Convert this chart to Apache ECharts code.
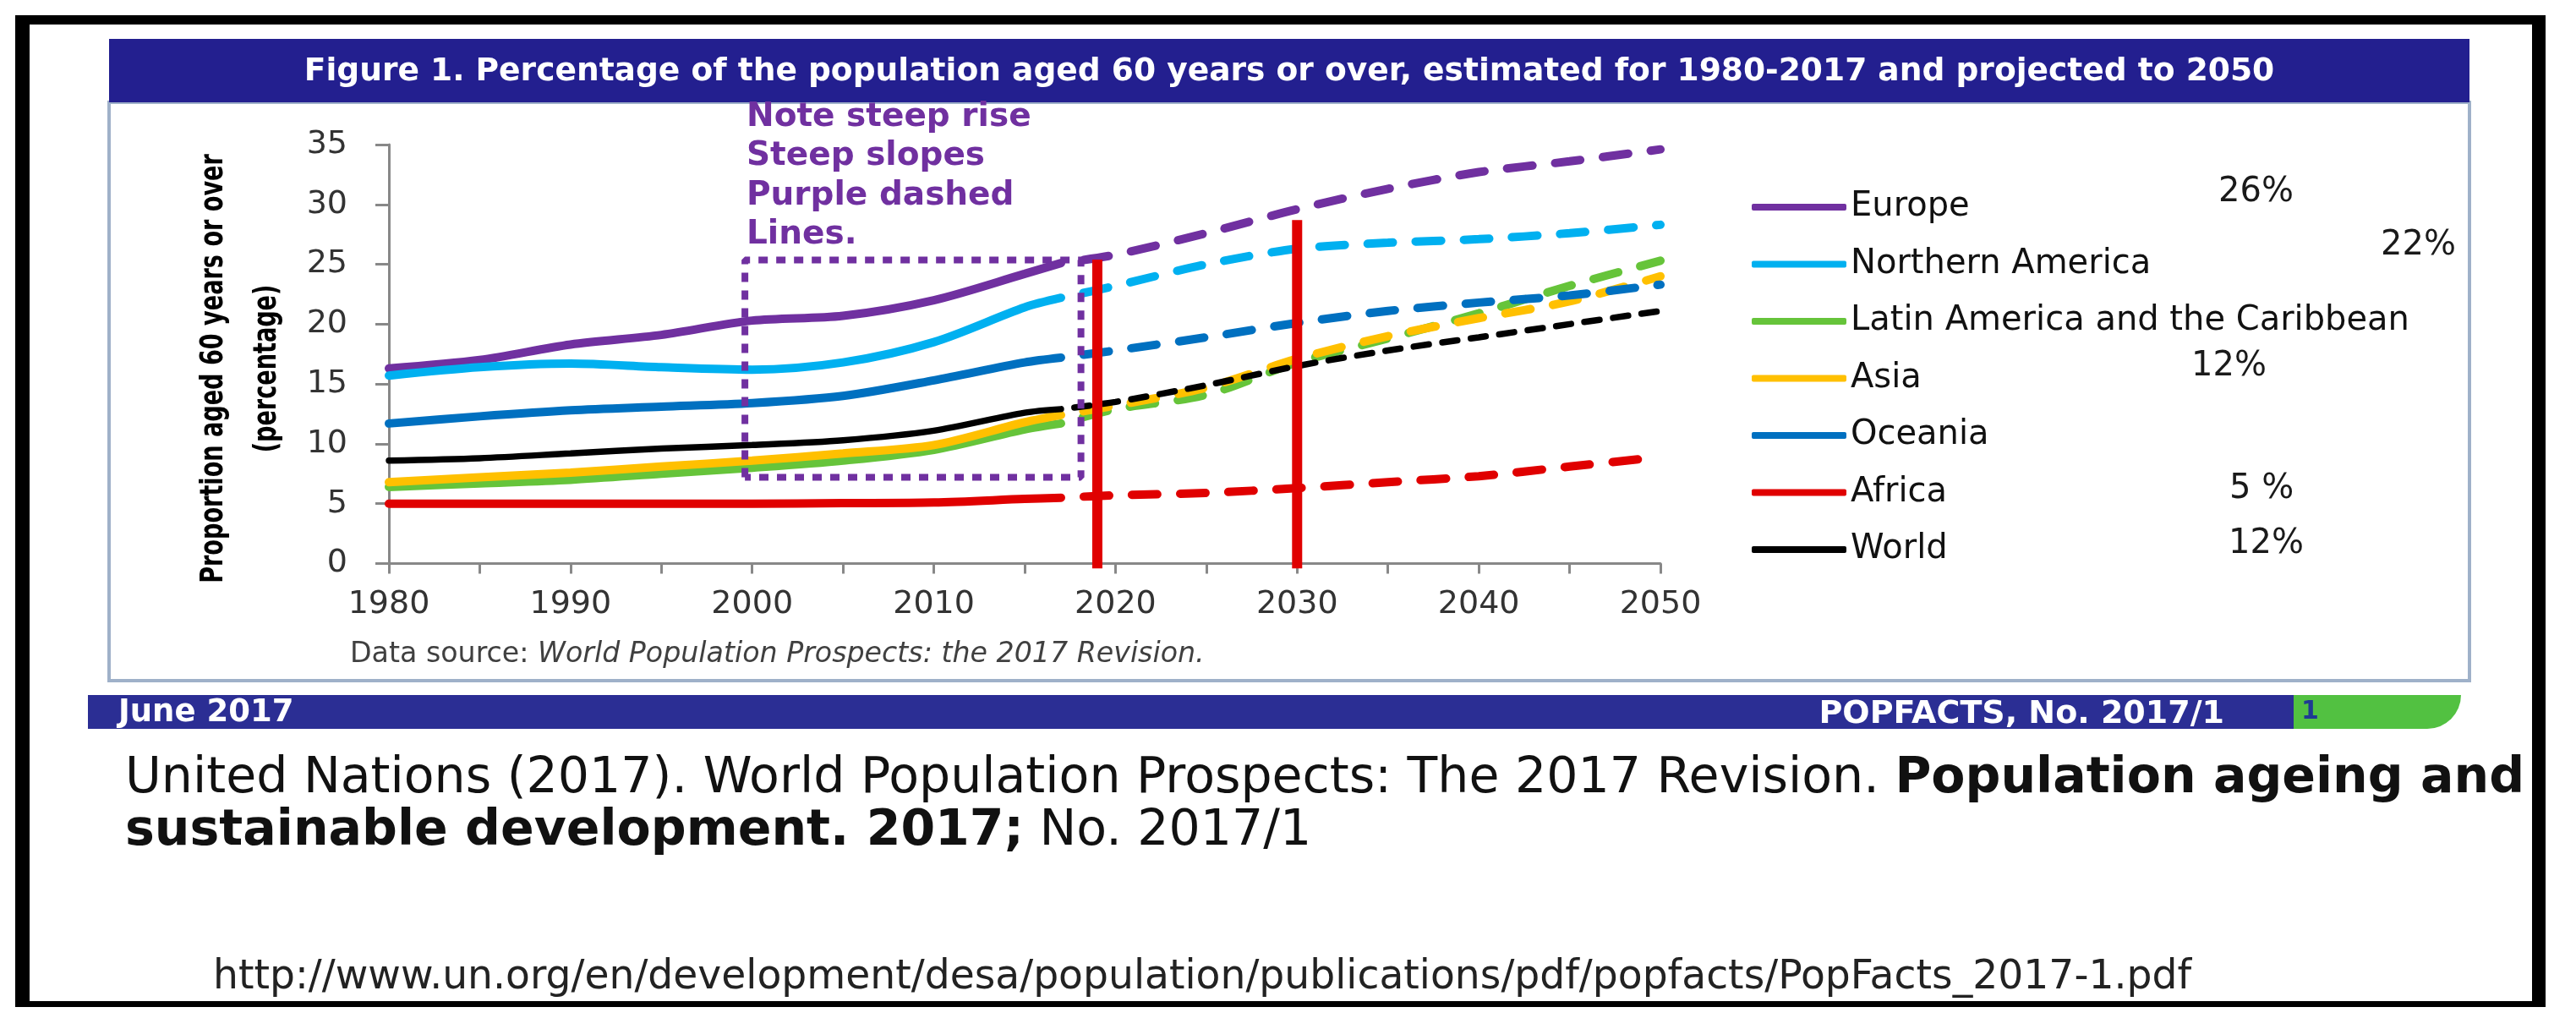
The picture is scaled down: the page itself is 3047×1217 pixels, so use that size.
<!DOCTYPE html>
<html>
<head>
<meta charset="utf-8">
<title>Population aged 60 years or over, 1980-2050</title>
<style>
  html, body { margin: 0; padding: 0; background: #fff; }
  #main { width: 3047px; height: 1217px; }
</style>
<script src="https://cdn.jsdelivr.net/npm/echarts@6.0.0/dist/echarts.min.js"></script>
</head>
<body>
<div id="main"></div>
<script>
// values (percentage aged 60+)
var regions = ['Europe', 'Northern America', 'Latin America and the Caribbean', 'Asia', 'Oceania', 'Africa', 'World'];
var estimateYears = [1980, 1985, 1990, 1995, 2000, 2005, 2010, 2015, 2017];
var projectionYears = [2017, 2020, 2025, 2030, 2035, 2040, 2045, 2050];

var europeEst = [16.3, 17.0, 18.3, 19.1, 20.3, 20.7, 22.0, 24.2, 25.1];
var europeProj = [25.1, 25.8, 27.6, 29.6, 31.3, 32.7, 33.6, 34.6];
var northAmericaEst = [15.7, 16.4, 16.7, 16.4, 16.2, 16.8, 18.5, 21.4, 22.2];
var northAmericaProj = [22.2, 23.2, 25.0, 26.3, 26.8, 27.1, 27.6, 28.3];
var latinAmericaEst = [6.4, 6.7, 7.0, 7.5, 8.0, 8.6, 9.5, 11.2, 11.7];
var latinAmericaProj = [11.7, 12.9, 14.1, 16.8, 18.8, 20.9, 23.2, 25.3];
var asiaEst = [6.8, 7.2, 7.6, 8.1, 8.6, 9.2, 9.9, 11.8, 12.4];
var asiaProj = [12.4, 13.2, 14.7, 17.1, 19.0, 20.5, 21.9, 24.0];
var oceaniaEst = [11.7, 12.3, 12.8, 13.1, 13.4, 14.0, 15.3, 16.8, 17.2];
var oceaniaProj = [17.2, 17.8, 18.9, 20.1, 21.1, 21.8, 22.4, 23.3];
var africaEst = [5.0, 5.0, 5.0, 5.0, 5.0, 5.05, 5.1, 5.4, 5.5];
var africaProj = [5.5, 5.7, 5.9, 6.3, 6.8, 7.3, 8.1, 8.9];
var worldEst = [8.6, 8.8, 9.2, 9.6, 9.9, 10.3, 11.1, 12.6, 12.9];
var worldProj = [12.9, 13.5, 14.9, 16.5, 17.8, 18.9, 20.0, 21.1];

// hand-drawn notes on the slide
var shareLabels = ['26%', '22%', '12%', '5 %', '12%'];
var noteLines = ['Note steep rise', 'Steep slopes', 'Purple dashed', 'Lines.'];
var markerYears = [2019, 2030];
var markerTops = [25.4, 28.7];
var boxYears = [1999.6, 2018.1];
var boxValues = [7.2, 25.35];

var estimates = [europeEst, northAmericaEst, latinAmericaEst, asiaEst, oceaniaEst, africaEst, worldEst];
var projections = [europeProj, northAmericaProj, latinAmericaProj, asiaProj, oceaniaProj, africaProj, worldProj];
var colors = ['#7030A0', '#00B0F0', '#66C43A', '#FFC000', '#0070C0', '#E00000', '#000000'];

var FONT = '"DejaVu Sans", Verdana, sans-serif';

// size long texts so that they span the same width as in the picture
var measureCtx = document.createElement('canvas').getContext('2d');
function textWidth(str, weight, style) {
  measureCtx.font = (style || 'normal') + ' ' + (weight || 'normal') + ' 100px ' + FONT;
  return measureCtx.measureText(str).width;
}
function fitSize(parts, target) {
  var w = 0;
  parts.forEach(function (p) { w += textWidth(p[0], p[1], p[2]); });
  return 100 * target / w;
}

function pairs(xs, ys) {
  return xs.map(function (x, i) { return [x, ys[i]]; });
}

var series = [];
regions.forEach(function (name, i) {
  var thin = name === 'World';
  var w = thin ? 7.5 : 10;
  var dash = thin ? [18, 16] : [30, 27];
  series.push({
    type: 'line', name: name, data: pairs(estimateYears, estimates[i]),
    smooth: 0.3, symbol: 'none', silent: true,
    itemStyle: { color: colors[i] },
    lineStyle: { color: colors[i], width: w, cap: 'round' }
  });
  series.push({
    type: 'line', name: name, data: pairs(projectionYears, projections[i]),
    smooth: 0.3, symbol: 'none', silent: true,
    itemStyle: { color: colors[i] },
    lineStyle: { color: colors[i], width: w, type: dash, dashOffset: dash[0], cap: 'round' }
  });
});

// dotted purple box
series.push({
  type: 'line', name: 'box', silent: true, symbol: 'none', z: 5,
  data: [[boxYears[0], boxValues[0]], [boxYears[0], boxValues[1]], [boxYears[1], boxValues[1]],
         [boxYears[1], boxValues[0]], [boxYears[0], boxValues[0]]],
  lineStyle: { color: '#7030A0', width: 8, type: [11, 10], cap: 'butt' }
});
// red vertical markers
markerYears.forEach(function (yr, i) {
  series.push({
    type: 'line', name: 'marker' + i, silent: true, symbol: 'none', z: 6, clip: false,
    data: [[yr, markerTops[i]], [yr, -0.4]],
    lineStyle: { color: '#E00000', width: 12 }
  });
});

var titleText = 'Figure 1. Percentage of the population aged 60 years or over, estimated for 1980-2017 and projected to 2050';
var titleSize = fitSize([[titleText, 'bold']], 2331);
var cite1a = 'United Nations (2017). World Population Prospects: The 2017 Revision. ';
var cite1b = 'Population ageing and';
var cite2a = 'sustainable development. 2017;';
var cite2b = ' No. 2017/1';
var citeSize = fitSize([[cite1a], [cite1b, 'bold']], 2839);
var urlText = 'http://www.un.org/en/development/desa/population/publications/pdf/popfacts/PopFacts_2017-1.pdf';
var urlSize = fitSize([[urlText]], 2341);
var srcA = 'Data source: ';
var srcB = 'World Population Prospects: the 2017 Revision.';
var srcSize = fitSize([[srcA], [srcB, 'normal', 'italic']], 1011);
var axisTitle1 = 'Proportion aged 60 years or over';
var axisTitle2 = '(percentage)';
var axisTitleSize = fitSize([[axisTitle1, 'bold']], 508);

var sharePos = [[2624, 228], [2816, 291], [2592, 434], [2637, 579], [2636, 644]];

var graphics = [
  // outer black frame
  { type: 'rect', shape: { x: 18, y: 18, width: 2993, height: 11 }, style: { fill: '#000' } },
  { type: 'rect', shape: { x: 18, y: 18, width: 17, height: 1173 }, style: { fill: '#000' } },
  { type: 'rect', shape: { x: 2995, y: 18, width: 16, height: 1173 }, style: { fill: '#000' } },
  { type: 'rect', shape: { x: 18, y: 1184, width: 2993, height: 7 }, style: { fill: '#000' } },
  // figure box and title bar
  { type: 'rect', shape: { x: 129, y: 121, width: 2792, height: 684 }, style: { fill: 'none', stroke: '#9FB1C9', lineWidth: 4 } },
  { type: 'rect', shape: { x: 129, y: 46, width: 2792, height: 75 }, style: { fill: '#231F8F' } },
  { type: 'text', x: 1525, y: 85, style: {
      text: titleText, fill: '#fff', fontFamily: FONT, fontWeight: 'bold', fontSize: titleSize,
      align: 'center', verticalAlign: 'middle', textAlign: 'center', textVerticalAlign: 'middle' } },
  // axis title, glyphs widened across the text like the stretched original
  { type: 'text', x: 285, y: 436, rotation: Math.PI / 2, scaleY: 1.4, style: {
      text: axisTitle1 + '\n' + axisTitle2, fill: '#000', fontFamily: FONT,
      fontWeight: 'bold', fontSize: axisTitleSize, lineHeight: 45,
      align: 'center', verticalAlign: 'middle', textAlign: 'center', textVerticalAlign: 'middle' } },
  // data source
  { type: 'text', x: 414, y: 774, style: {
      text: '{a|' + srcA + '}{b|' + srcB + '}', fontFamily: FONT, fontSize: srcSize,
      align: 'left', verticalAlign: 'middle', textAlign: 'left', textVerticalAlign: 'middle',
      rich: {
        a: { fill: '#404040', fontFamily: FONT, fontSize: srcSize },
        b: { fill: '#404040', fontFamily: FONT, fontSize: srcSize, fontStyle: 'italic' }
      } } },
  // footer bar
  { type: 'rect', shape: { x: 104, y: 822, width: 2609, height: 40 }, style: { fill: '#2B2E94' } },
  { type: 'rect', shape: { x: 2713, y: 822, width: 198, height: 40, r: [0, 0, 40, 0] }, style: { fill: '#52C141' } },
  { type: 'text', x: 140, y: 843, style: {
      text: 'June 2017', fill: '#fff', fontFamily: FONT, fontWeight: 'bold', fontSize: 37,
      align: 'left', verticalAlign: 'middle', textAlign: 'left', textVerticalAlign: 'middle' } },
  { type: 'text', x: 2631, y: 845, style: {
      text: 'POPFACTS, No. 2017/1', fill: '#fff', fontFamily: FONT, fontWeight: 'bold', fontSize: 38,
      align: 'right', verticalAlign: 'middle', textAlign: 'right', textVerticalAlign: 'middle' } },
  { type: 'text', x: 2722, y: 842, style: {
      text: '1', fill: '#1F3A93', fontFamily: FONT, fontWeight: 'bold', fontSize: 30,
      align: 'left', verticalAlign: 'middle', textAlign: 'left', textVerticalAlign: 'middle' } },
  // citation
  { type: 'text', x: 148, y: 922, style: {
      text: '{a|' + cite1a + '}{b|' + cite1b + '}', fontFamily: FONT, fontSize: citeSize,
      align: 'left', verticalAlign: 'middle', textAlign: 'left', textVerticalAlign: 'middle',
      rich: {
        a: { fill: '#111', fontFamily: FONT, fontSize: citeSize },
        b: { fill: '#111', fontFamily: FONT, fontSize: citeSize, fontWeight: 'bold' }
      } } },
  { type: 'text', x: 148, y: 984, style: {
      text: '{b|' + cite2a + '}{a|' + cite2b + '}', fontFamily: FONT, fontSize: citeSize,
      align: 'left', verticalAlign: 'middle', textAlign: 'left', textVerticalAlign: 'middle',
      rich: {
        a: { fill: '#111', fontFamily: FONT, fontSize: citeSize },
        b: { fill: '#111', fontFamily: FONT, fontSize: citeSize, fontWeight: 'bold' }
      } } },
  { type: 'text', x: 252, y: 1157, style: {
      text: urlText, fill: '#222', fontFamily: FONT, fontSize: urlSize,
      align: 'left', verticalAlign: 'middle', textAlign: 'left', textVerticalAlign: 'middle' } }
];

noteLines.forEach(function (line, i) {
  graphics.push({ type: 'text', x: 883, y: 139 + i * 46.3, style: {
    text: line, fill: '#7030A0', fontFamily: FONT, fontWeight: 'bold', fontSize: 39,
    align: 'left', verticalAlign: 'middle', textAlign: 'left', textVerticalAlign: 'middle' } });
});
shareLabels.forEach(function (s, i) {
  graphics.push({ type: 'text', x: sharePos[i][0], y: sharePos[i][1], style: {
    text: s, fill: '#1a1a1a', fontFamily: FONT, fontSize: 40,
    align: 'left', verticalAlign: 'middle', textAlign: 'left', textVerticalAlign: 'middle' } });
});

var myChart = echarts.init(document.getElementById('main'));
var option = {
  backgroundColor: '#fff',
  animation: false,
  grid: { left: 460, top: 171, width: 1504, height: 495.5, outerBoundsMode: 'none' },
  xAxis: {
    type: 'value', min: 1980, max: 2050, interval: 5,
    axisLine: { lineStyle: { color: '#888', width: 3 } },
    axisTick: { show: true, length: 12, lineStyle: { color: '#888', width: 3 } },
    splitLine: { show: false },
    axisLabel: {
      margin: 30, fontSize: 38, fontFamily: FONT, color: '#333',
      formatter: function (v) { return v % 10 === 0 ? String(v) : ''; }
    }
  },
  yAxis: {
    type: 'value', min: 0, max: 35, interval: 5,
    axisLine: { show: true, lineStyle: { color: '#888', width: 3 } },
    axisTick: { show: true, length: 16, lineStyle: { color: '#888', width: 3 } },
    splitLine: { show: false },
    axisLabel: { margin: 49, fontSize: 38, fontFamily: FONT, color: '#333' }
  },
  legend: {
    data: regions, orient: 'vertical', left: 2067, top: 220,
    icon: 'roundRect', itemWidth: 112, itemHeight: 8, itemGap: 27.5,
    selectedMode: false,
    textStyle: { fontSize: 40, lineHeight: 40, fontFamily: FONT, color: '#111' }
  },
  graphic: graphics,
  series: series
};
myChart.setOption(option);
</script>
</body>
</html>
